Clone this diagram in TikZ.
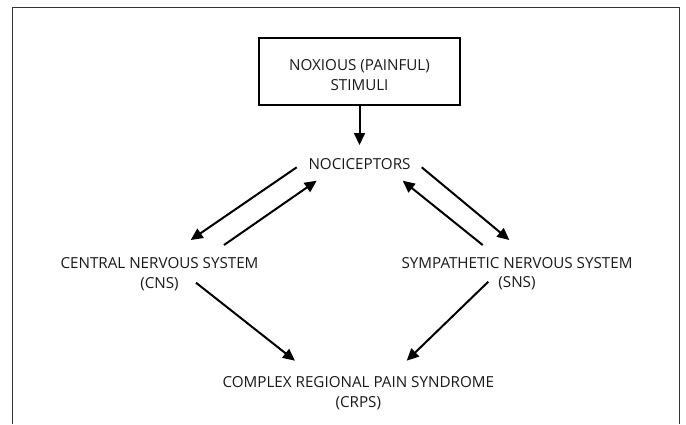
\documentclass[tikz,border=0pt]{standalone}
\usepackage{fontspec}
\setmainfont{Open Sans}
\usetikzlibrary{arrows.meta}
\begin{document}
\begin{tikzpicture}[x=1pt,y=-1pt,
  lbl/.style={inner sep=0pt, align=center, text depth=0pt, font=\fontsize{15.2}{19.4}\selectfont, text=black!90},
  stimbox/.style={draw, line width=2pt, minimum width=201pt, minimum height=67pt, inner sep=0pt, text height=37.5pt, text depth=0pt, align=center, font=\fontsize{15.2}{19.4}\selectfont, text=black!90},
  arr/.style={line width=2pt, -{Triangle[length=12pt,width=11pt]}},
  frame/.style={line width=1pt, draw=black!80}]
\useasboundingbox (0,0) rectangle (686,424);
\draw[frame] (12.5,424) -- (12.5,7) -- (679.5,7) -- (679.5,424);
\node[stimbox] (box) at (359.5,71.5) {NOXIOUS (PAINFUL)\\STIMULI};
\node[lbl] (noc) at (359.5,163.5) {NOCICEPTORS};
\node[lbl] (cns) at (159.5,273) {CENTRAL NERVOUS SYSTEM\\(CNS)};
\node[lbl] (sns) at (517,272.7) {SYMPATHETIC NERVOUS SYSTEM\\(SNS)};
\node[lbl] (crps) at (358.3,392) {COMPLEX REGIONAL PAIN SYNDROME\\(CRPS)};
\draw[arr] (box.south) -- ([shift={(0,-18.5)}]noc.center);
\draw[arr] ([shift={(-62.8,3.8)}]noc.center) -- ([shift={(31.2,-33)}]cns.center);
\draw[arr] ([shift={(64.5,-28)}]cns.center) -- ([shift={(-42.8,17.2)}]noc.center);
\draw[arr] ([shift={(62.2,3.8)}]noc.center) -- ([shift={(-7.7,-32.7)}]sns.center);
\draw[arr] ([shift={(-34.3,-27.7)}]sns.center) -- ([shift={(43.2,17.2)}]noc.center);
\draw[arr] ([shift={(36.5,9.7)}]cns.center) -- ([shift={(-63.3,-31.3)}]crps.center);
\draw[arr] ([shift={(-28.7,9)}]sns.center) -- ([shift={(48.4,-31.3)}]crps.center);
\end{tikzpicture}
\end{document}
